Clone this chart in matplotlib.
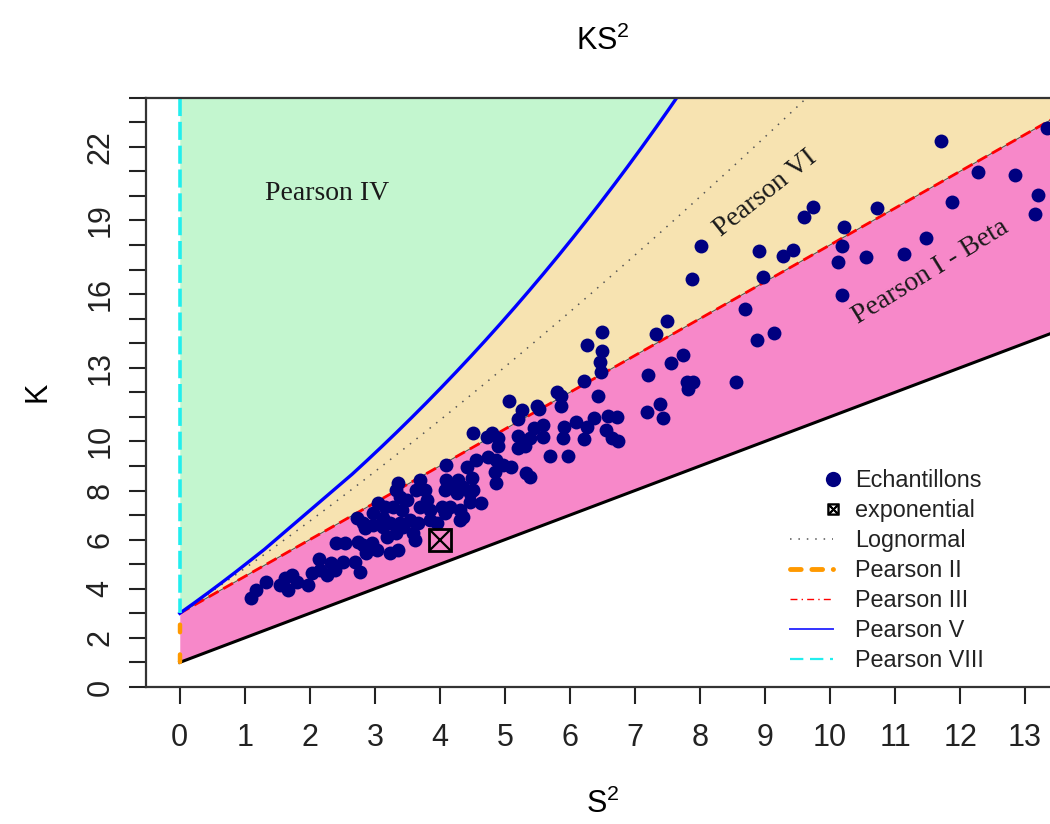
import numpy as np
import matplotlib.pyplot as plt
from matplotlib.lines import Line2D
from matplotlib.legend_handler import HandlerLine2D

plt.rcParams['font.family'] = ['Liberation Sans', 'DejaVu Sans']
plt.rcParams['mathtext.default'] = 'regular'

# ## Data: squared skewness (S2) and kurtosis (K) of the samples
s2 = [13.34, 11.70, 12.28, 12.84, 13.20, 13.15, 11.87, 10.72, 11.47, 11.14,
      10.55, 10.21, 10.19, 10.13, 10.19, 9.74, 9.60, 9.43, 9.28, 8.90,
      8.97, 8.70, 9.14, 8.87, 8.56, 8.01, 7.87, 7.74, 7.80, 7.90,
      7.81, 7.56, 7.49, 7.32, 7.20, 7.38, 7.18, 7.43, 6.50, 6.26,
      6.50, 6.46, 6.48, 6.22, 5.80, 5.87, 6.43, 5.06, 5.50, 5.53,
      5.86, 5.26, 5.20, 6.59, 6.73, 6.37, 6.09, 6.27, 5.91, 5.58,
      5.45, 4.51, 4.80, 4.89, 5.20, 5.38, 5.59, 6.56, 5.90, 6.22,
      6.64, 6.74, 4.72, 5.20, 5.31, 4.89, 5.69, 5.97, 4.56, 4.74,
      4.87, 4.97, 5.10, 4.41, 5.33, 5.38, 4.85, 4.87, 4.49, 4.35,
      4.51, 4.10, 4.28, 4.64, 3.36, 3.69, 4.10, 4.08, 4.18, 4.26,
      4.46, 3.33, 3.38, 3.64, 3.77, 3.80, 3.69, 3.85, 3.05, 3.15,
      3.28, 3.41, 3.49, 4.08, 4.15, 4.36, 4.31, 2.72, 2.82, 3.13,
      2.97, 3.23, 3.38, 3.54, 3.67, 3.85, 3.95, 2.97, 1.10, 1.18,
      1.33, 1.54, 1.62, 1.67, 1.72, 1.80, 1.97, 2.03, 2.15, 2.26,
      2.14, 2.33, 2.51, 2.38, 2.69, 2.77, 2.41, 2.54, 2.85, 2.74,
      2.82, 2.95, 3.03, 2.87, 3.23, 3.36, 3.13, 3.18, 3.33, 3.44,
      3.59, 3.62, 4.31, 4.03, 4.46]
k = [22.77, 22.25, 20.99, 20.86, 20.04, 19.25, 19.77, 19.50, 18.28, 17.62,
     17.53, 18.72, 17.95, 17.32, 15.97, 19.56, 19.13, 17.80, 17.54, 17.76,
     16.70, 15.38, 14.43, 14.13, 12.41, 17.96, 16.62, 13.50, 12.44, 12.40,
     12.13, 13.21, 14.91, 14.37, 12.71, 11.53, 11.19, 10.95, 14.47, 13.93,
     13.70, 13.25, 12.84, 12.48, 12.03, 11.85, 11.85, 11.65, 11.45, 11.31,
     11.45, 11.28, 10.92, 11.04, 10.99, 10.95, 10.81, 10.60, 10.58, 10.67,
     10.54, 10.36, 10.33, 10.13, 10.22, 10.13, 10.17, 10.47, 10.13, 10.09,
     10.13, 10.03, 10.20, 9.72, 9.82, 9.82, 9.41, 9.41, 9.25, 9.38,
     9.25, 9.04, 8.97, 8.97, 8.70, 8.57, 8.77, 8.30, 8.50, 8.16,
     8.02, 9.04, 8.43, 7.48, 8.30, 8.43, 8.43, 8.02, 8.09, 7.89,
     7.89, 8.02, 7.75, 8.02, 8.02, 7.62, 7.34, 7.21, 7.48, 7.34,
     7.34, 7.21, 7.62, 7.08, 7.34, 6.94, 6.80, 6.87, 6.67, 6.87,
     6.60, 6.67, 6.67, 6.80, 6.67, 6.80, 6.67, 7.08, 3.61, 3.95,
     4.29, 4.15, 4.43, 3.95, 4.56, 4.29, 4.15, 4.63, 4.77, 4.56,
     5.20, 5.04, 5.10, 4.77, 5.10, 4.70, 5.88, 5.85, 6.46, 5.92,
     5.78, 5.85, 5.58, 5.45, 5.45, 5.58, 6.53, 6.12, 6.26, 6.53,
     6.26, 5.99, 7.21, 7.34, 7.55]

# exponential reference point
expo_s2 = [4.0]
expo_k = [6.0]

# axis ticks
xticks = list(range(0, 14))
yticks = list(range(0, 25))
ylabels_shown = [0, 2, 4, 6, 8, 10, 13, 16, 19, 22]

# ## Theoretical boundaries
# Pearson II / VIII segments on S2 = 0
p2_k = [1, 3]
p8_k = [3, 24]

x = np.linspace(0, 13.6, 400)
k_low = 1 + x          # lower limit
k_p3 = 3 + 1.5 * x     # Pearson III (gamma)

# Pearson V (inverse gamma), shape a > 4
a = np.concatenate([np.linspace(4.05, 10, 400), np.linspace(10, 5000, 800)])
b1_v = 16 * (a - 2) / (a - 3) ** 2
b2_v = 3 * (a - 2) * (a + 5) / ((a - 3) * (a - 4))
order = np.argsort(b1_v)
b1_v, b2_v = b1_v[order], b2_v[order]
b1_v = np.concatenate([[0], b1_v])
b2_v = np.concatenate([[3], b2_v])
k_v = np.interp(x, b1_v, b2_v)

# lognormal
w = np.linspace(1, 2, 400)
b1_ln = (w + 2) ** 2 * (w - 1)
b2_ln = w ** 4 + 2 * w ** 3 + 3 * w ** 2 - 3

fig = plt.figure(figsize=(10.5, 8.24), dpi=100)
ax = fig.add_axes([0.139, 0.1663, 0.8695, 0.7152])

top = 30
ax.fill_between(x, np.minimum(k_v, top), top, color='#C3F6CF', lw=0)
ax.fill_between(x, k_p3, np.minimum(k_v, top), color='#F7E3B1', lw=0)
ax.fill_between(x, k_low, k_p3, color='#F788C9', lw=0)

ax.plot(x, k_low, color='black', lw=2.2)
ax.plot(b1_ln, b2_ln, color='#555555', lw=1.1, ls=(0, (1, 4.5)))
ax.plot(x, k_p3, color='#555555', lw=0.8)
ax.plot(x, k_p3, color='red', lw=2.0, ls=(0, (4, 2)))
ax.plot(b1_v, b2_v, color='#0000FF', lw=2.4)
ax.plot([0, 0], p2_k, color='#FF9900', lw=3.2, ls=(0, (1.7, 5)),
        dash_capstyle='round')
ax.plot([0, 0], p8_k[::-1], color='#22EEEE', lw=2.6, ls=(0, (5, 1.6)))

ax.plot(s2, k, 'o', color='#000080', ms=10, mew=0)
ax.plot(expo_s2, expo_k, 's', mfc='none', mec='black', ms=15.5, mew=2)
ax.plot(expo_s2, expo_k, 'x', color='black', ms=15.5, mew=1.6)

ax.text(2.26, 20.1, 'Pearson IV', family='Liberation Serif', fontsize=20,
        ha='center', va='center', color='#1a1a1a')
ax.text(9.0, 20.1, 'Pearson VI', family='Liberation Serif', fontsize=20,
        ha='center', va='center', rotation=38.5, color='#1a1a1a')
ax.text(11.55, 16.9, 'Pearson I - Beta', family='Liberation Serif',
        fontsize=20, ha='center', va='center', rotation=31.5, color='#1a1a1a')

ax.set_xlim(-0.52, 13.52)
ax.set_ylim(0, 24)
ax.set_xticks(xticks)
ax.set_xticklabels([str(t) for t in xticks])
ax.set_yticks(yticks)
ax.set_yticklabels([str(t) if t in ylabels_shown else '' for t in yticks],
                   rotation=90, va='center')
ax.tick_params(axis='both', direction='out', length=12, width=1.5,
               labelsize=22, colors='#222222')
ax.tick_params(axis='x', pad=14)
ax.tick_params(axis='y', pad=10)
for side in ['left', 'bottom', 'top']:
    ax.spines[side].set_color('#333333')
    ax.spines[side].set_linewidth(1.6)
ax.spines['right'].set_visible(False)

ax.set_title('KS$^2$', fontsize=22, pad=34)
ax.set_xlabel('S$^2$', fontsize=22, labelpad=26)
ax.set_ylabel('K', fontsize=22, labelpad=24)


class MarkerRight(HandlerLine2D):
    # put the single legend marker at the right end of the handle
    def get_xdata(self, legend, xdescent, ydescent, width, height, fontsize):
        right = width - xdescent
        return np.array([right - 0.01, right]), np.array([right])


h_ech = Line2D([], [], ls='none', marker='o', color='#000080', ms=11, mew=0)
h_exp = Line2D([], [], ls='none', marker='$\\boxtimes$', color='black', ms=8)
h_ln = Line2D([], [], color='#555555', lw=1.1, ls=(0, (1, 4.5)))
h_p2 = Line2D([], [], color='#FF9900', lw=3.5, ls=(0, (2.2, 2.2)),
              dash_capstyle='round')
h_p3 = Line2D([], [], color='red', lw=1.0, ls=(0, (5, 3, 1, 3)))
h_p5 = Line2D([], [], color='#3333FF', lw=1.4)
h_p8 = Line2D([], [], color='#22EEEE', lw=1.6, ls=(0, (6, 3)))

leg = ax.legend([h_ech, h_exp, h_ln, h_p2, h_p3, h_p5, h_p8],
                ['Echantillons', 'exponential', 'Lognormal', 'Pearson II',
                 'Pearson III', 'Pearson V', 'Pearson VIII'],
                loc='upper left', bbox_to_anchor=(0.705, 0.3704),
                frameon=False, fontsize=16.8, handlelength=1.85,
                handletextpad=0.95, labelspacing=0.3, borderpad=0,
                borderaxespad=0,
                handler_map={h_ech: MarkerRight(), h_exp: MarkerRight()})
for t in leg.get_texts():
    t.set_color('#222222')

fig.savefig('out.png', dpi=100)
